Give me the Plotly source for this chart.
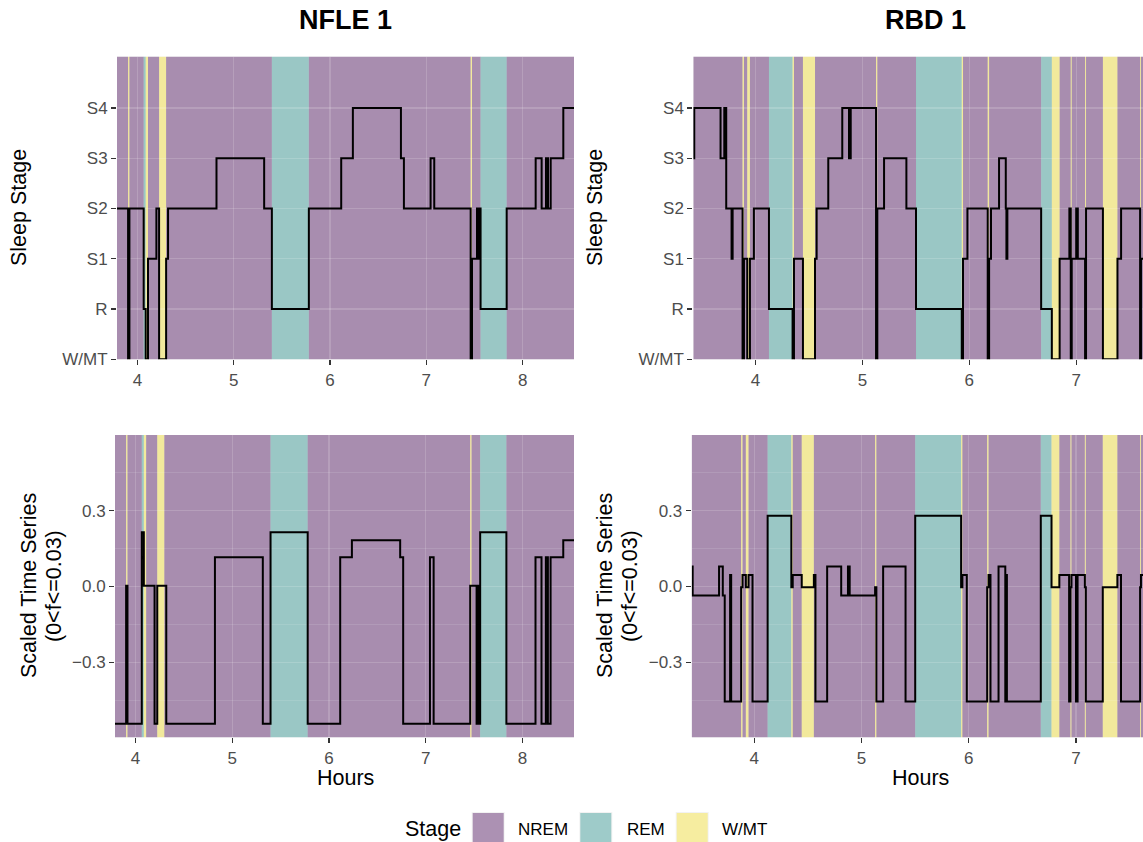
import plotly.graph_objects as go

W, H = 1143, 842
STAGE_LABELS = ["W/MT", "R", "S1", "S2", "S3", "S4"]
STAGE_CODES = [0, 1, 2, 3, 4, 5]

# ---------------- NFLE 1 (hypnogram: segment start hours + stage) ----------------
nfle_start = [3.788, 3.903, 3.917, 4.065, 4.086, 4.110, 4.197, 4.225, 4.298, 4.318,
              4.821, 5.316, 5.396, 5.780, 6.116, 6.237, 6.736, 6.767, 7.044, 7.082,
              7.460, 7.474, 7.526, 7.536, 7.550, 7.563, 7.834, 8.135, 8.197, 8.242,
              8.263, 8.291, 8.422]
nfle_stage = ["S2", "W/MT", "S2", "R", "W/MT", "S1", "S2", "W/MT", "S1", "S2",
              "S3", "S2", "R", "S2", "S3", "S4", "S3", "S2", "S3", "S2",
              "W/MT", "S1", "S2", "S1", "S2", "R", "S2", "S3", "S2", "S3",
              "S2", "S3", "S4"]
nfle_scaled = [-0.543, 0.003, -0.543, 0.215, 0.003, 0.003, -0.543, 0.003, 0.003, -0.543,
               0.116, -0.543, 0.215, -0.543, 0.116, 0.183, 0.116, -0.543, 0.116, -0.543,
               0.003, 0.003, -0.543, 0.003, -0.543, 0.215, -0.543, 0.116, -0.543, 0.116,
               -0.543, 0.116, 0.183]
nfle_end = 8.533

# ---------------- RBD 1 ----------------
rbd_start = [3.417, 3.426, 3.672, 3.707, 3.725, 3.775, 3.785, 3.878, 3.891, 3.922,
             3.947, 3.984, 4.125, 4.346, 4.359, 4.443, 4.556, 4.571, 4.680, 4.811,
             4.874, 4.890, 5.127, 5.139, 5.202, 5.411, 5.501, 5.929, 5.941, 5.982,
             6.172, 6.185, 6.203, 6.278, 6.341, 6.347, 6.356, 6.672, 6.772, 6.845,
             6.936, 6.949, 6.958, 7.000, 7.015, 7.083, 7.092, 7.250, 7.386, 7.420,
             7.598, 7.606]
rbd_stage = ["S3", "S4", "S3", "S4", "S2", "S1", "S2", "W/MT", "S1", "W/MT",
             "S1", "S2", "R", "W/MT", "S1", "W/MT", "S1", "S2", "S3", "S4",
             "S3", "S4", "W/MT", "S2", "S3", "S2", "R", "W/MT", "S1", "S2",
             "W/MT", "S1", "S2", "S3", "S2", "S1", "S2", "R", "W/MT", "S1",
             "S2", "W/MT", "S1", "S2", "S1", "W/MT", "S2", "W/MT", "S1", "S2",
             "W/MT", "S1"]
rbd_scaled = [0.079, -0.036, 0.079, -0.036, -0.455, 0.046, -0.455, -0.003, 0.046, -0.003,
              0.046, -0.455, 0.280, -0.003, 0.046, -0.003, 0.046, -0.455, 0.079, -0.036,
              0.079, -0.036, -0.003, -0.455, 0.079, -0.455, 0.280, -0.003, 0.046, -0.455,
              -0.003, 0.046, -0.455, 0.079, -0.455, 0.046, -0.455, 0.280, -0.003, 0.046,
              -0.455, -0.003, 0.046, -0.455, 0.046, -0.003, -0.455, -0.003, 0.046, -0.455,
              -0.003, 0.046]
rbd_end = 7.625

TITLES = ["NFLE 1", "RBD 1"]
LEGEND_STAGES = ["NREM", "REM", "W/MT"]
STAGE_COLORS = {"NREM": "#440154", "REM": "#21908C", "W/MT": "#FDE725"}
ALPHA = 0.4
GRID = "rgba(255,255,255,0.16)"

FONT = "Liberation Sans, Arial, Helvetica, sans-serif"
TICK_FONT = dict(family=FONT, size=17, color="#4D4D4D")


def px(x):
    return x / W


def py(y):
    return 1 - y / H


def category(stage):
    if stage == "W/MT":
        return "W/MT"
    if stage == "R":
        return "REM"
    return "NREM"


def bands(starts, stages, end):
    out = []
    cur_cat, cur_x0 = None, None
    for s, st in zip(starts, stages):
        c = category(st)
        if c != cur_cat:
            if cur_cat is not None:
                out.append((cur_x0, s, cur_cat))
            cur_cat, cur_x0 = c, s
    out.append((cur_x0, end, cur_cat))
    return out


fig = go.Figure()

panels = [
    ("x", "y", nfle_start, [STAGE_LABELS.index(s) for s in nfle_stage], nfle_end,
     [px(117), px(574)], [py(359.3), py(56.7)], [3.788, 8.533], "stage", nfle_stage),
    ("x2", "y2", rbd_start, [STAGE_LABELS.index(s) for s in rbd_stage], rbd_end,
     [px(693.3), 1.0], [py(359.3), py(56.7)], [3.417, 7.625], "stage", rbd_stage),
    ("x3", "y3", nfle_start, nfle_scaled, nfle_end,
     [px(115), px(574)], [py(737.3), py(435)], [3.788, 8.533], "ts", nfle_stage),
    ("x4", "y4", rbd_start, rbd_scaled, rbd_end,
     [px(691.7), 1.0], [py(737.3), py(435)], [3.417, 7.625], "ts", rbd_stage),
]

layout = dict(
    width=W, height=H, margin=dict(l=0, r=0, t=0, b=0, pad=0, autoexpand=False),
    paper_bgcolor="white", plot_bgcolor="#EBEBEB",
    showlegend=False, font=dict(family=FONT, color="black"),
)
shapes = []

for xid, yid, starts, yvals, end, xdom, ydom, xr, kind, stages in panels:
    xname = "xaxis" + xid[1:]
    yname = "yaxis" + yid[1:]
    layout[xname] = dict(
        domain=xdom, range=xr, anchor=yid, tickvals=[4, 5, 6, 7, 8],
        showgrid=True, gridcolor=GRID, gridwidth=1.4, zeroline=False,
        showline=False, ticks="outside", ticklen=5, tickwidth=1.2, tickcolor="#333333",
        tickfont=TICK_FONT, fixedrange=True, automargin=False,
    )
    if kind == "stage":
        layout[yname] = dict(
            domain=ydom, range=[0, 6.02], anchor=xid, tickvals=STAGE_CODES,
            ticktext=STAGE_LABELS,
            showgrid=True, gridcolor=GRID, gridwidth=1.4, zeroline=False,
            showline=False, ticks="outside", ticklen=5, tickwidth=1.2, tickcolor="#333333",
            tickfont=TICK_FONT, fixedrange=True, automargin=False,
        )
    else:
        layout[yname] = dict(
            domain=ydom, range=[-0.597, 0.6], anchor=xid, tickvals=[-0.3, 0.0, 0.3],
            ticktext=["\u22120.3", "0.0", "0.3"],
            showgrid=True, gridcolor=GRID, gridwidth=1.4, zeroline=False,
            showline=False, ticks="outside", ticklen=5, tickwidth=1.2, tickcolor="#333333",
            tickfont=TICK_FONT, fixedrange=True, automargin=False,
            minor=dict(tickvals=[-0.45, -0.15, 0.15, 0.45], showgrid=True,
                       gridcolor=GRID, gridwidth=0.7, ticks=""),
        )
    for x0, x1, cat in bands(starts, stages, end):
        shapes.append(dict(
            type="rect", xref=xid, yref=yid + " domain", x0=x0, x1=x1, y0=0, y1=1,
            fillcolor=STAGE_COLORS[cat], opacity=ALPHA, line=dict(width=0),
            layer="below",
        ))
    fig.add_trace(go.Scatter(
        x=list(starts) + [end], y=list(yvals) + [yvals[-1]],
        mode="lines", line=dict(color="black", width=2, shape="hv"),
        xaxis=xid, yaxis=yid, hoverinfo="skip",
    ))

annotations = []
for txt, cx in zip(TITLES, [345.5, 925]):
    annotations.append(dict(text="<b>%s</b>" % txt, x=px(cx), y=py(20), xref="paper", yref="paper",
                            showarrow=False, xanchor="center", yanchor="middle",
                            font=dict(family=FONT, size=27, color="black")))
for cx in [19, 595]:
    annotations.append(dict(text="Sleep Stage", x=px(cx), y=py(208), xref="paper", yref="paper",
                            showarrow=False, textangle=-90, xanchor="center", yanchor="middle",
                            font=dict(family=FONT, size=21.5, color="black")))
for cx1, cx2 in [(29, 54), (605, 630)]:
    annotations.append(dict(text="Scaled Time Series", x=px(cx1), y=py(586), xref="paper", yref="paper",
                            showarrow=False, textangle=-90, xanchor="center", yanchor="middle",
                            font=dict(family=FONT, size=21.5, color="black")))
    annotations.append(dict(text="(0&lt;f&lt;=0.03)", x=px(cx2), y=py(586), xref="paper", yref="paper",
                            showarrow=False, textangle=-90, xanchor="center", yanchor="middle",
                            font=dict(family=FONT, size=21.5, color="black")))
for cx in [345, 920]:
    annotations.append(dict(text="Hours", x=px(cx), y=py(778), xref="paper", yref="paper",
                            showarrow=False, xanchor="center", yanchor="middle",
                            font=dict(family=FONT, size=21.5, color="black")))

# legend drawn ggplot style
annotations.append(dict(text="Stage", x=px(403), y=py(829), xref="paper", yref="paper",
                        showarrow=False, xanchor="left", yanchor="middle",
                        font=dict(family=FONT, size=21.5, color="black")))
sw_x = [471.7, 579.3, 675.7]
lab_x = [516, 625, 720]
for name, sx, lx in zip(LEGEND_STAGES, sw_x, lab_x):
    shapes.append(dict(type="rect", xref="paper", yref="paper", x0=px(sx), x1=px(sx + 33),
                       y0=0, y1=py(812), fillcolor="#F2F2F2", line=dict(width=0),
                       layer="above"))
    shapes.append(dict(type="rect", xref="paper", yref="paper", x0=px(sx + 1), x1=px(sx + 32),
                       y0=0, y1=py(813), fillcolor=STAGE_COLORS[name], opacity=ALPHA,
                       line=dict(width=0), layer="above"))
    annotations.append(dict(text=name, x=px(lx), y=py(829), xref="paper", yref="paper",
                            showarrow=False, xanchor="left", yanchor="middle",
                            font=dict(family=FONT, size=17, color="black")))

layout["shapes"] = shapes
layout["annotations"] = annotations
fig.update_layout(**layout)
fig.write_html(
    "out.html",
    config={"displayModeBar": False, "staticPlot": True, "responsive": False},
    post_script=(
        "document.documentElement.style.margin='0';"
        "document.body.style.margin='0';"
        "document.body.style.overflow='hidden';"
        "var gd=document.getElementById('{plot_id}');"
        "gd.style.position='fixed';gd.style.left='0px';gd.style.top='0px';"
    ),
)
